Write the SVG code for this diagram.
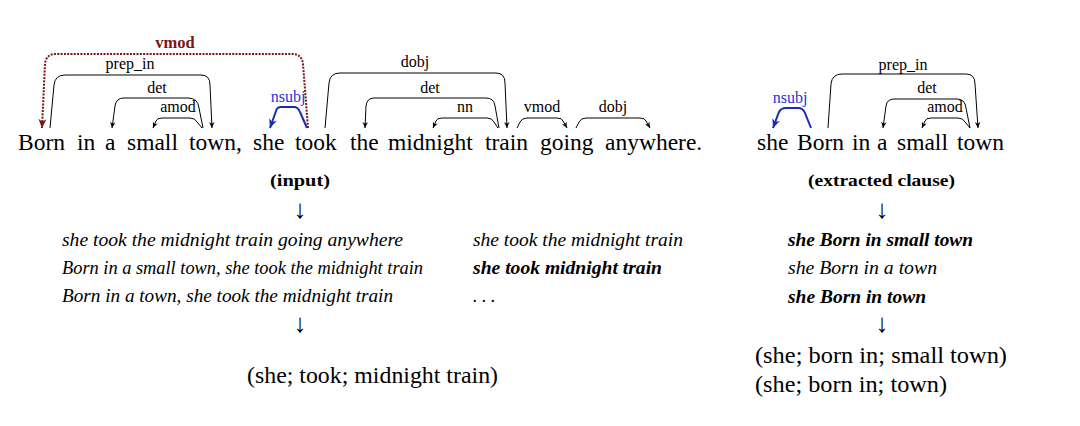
<svg xmlns="http://www.w3.org/2000/svg" width="1080" height="426" viewBox="0 0 1080 426">
<style>
.w{font-family:"Liberation Serif","Times New Roman",serif;font-size:23.5px;fill:#000}
.lb{font-family:"Liberation Serif","Times New Roman",serif;font-size:16px;fill:#000;text-anchor:middle}
.arc{fill:none;stroke:#000;stroke-width:1}
.blue{fill:none;stroke:#1a2bb0;stroke-width:2}
.red{fill:none;stroke:#7a1515;stroke-width:2;stroke-dasharray:2 1.3}
.it{font-family:"Liberation Serif","Times New Roman",serif;font-size:18px;font-style:italic;fill:#000}
.bi{font-family:"Liberation Serif","Times New Roman",serif;font-size:18px;font-style:italic;font-weight:bold;fill:#000}
.hd{font-family:"Liberation Serif","Times New Roman",serif;font-size:17.5px;font-weight:bold;fill:#000}
.ar{font-family:"Liberation Serif","DejaVu Serif",serif;font-size:26px;fill:#000;text-anchor:middle}
.tr{font-family:"Liberation Serif","Times New Roman",serif;font-size:22.5px;fill:#000}
</style>
<defs>
<marker id="ah" viewBox="0 0 10 10" refX="10" refY="5" markerWidth="7" markerHeight="6" markerUnits="userSpaceOnUse" orient="auto"><path d="M0,0.5 L10,5 L0,9.5 L3,5 z" fill="#000"/></marker>
<marker id="ahb" viewBox="0 0 10 10" refX="10" refY="5" markerWidth="10" markerHeight="9" markerUnits="userSpaceOnUse" orient="auto"><path d="M0,0.5 L10,5 L0,9.5 L3,5 z" fill="#1a2bb0"/></marker>
<marker id="ahr" viewBox="0 0 10 10" refX="10" refY="5" markerWidth="10" markerHeight="9" markerUnits="userSpaceOnUse" orient="auto"><path d="M0,0.5 L10,5 L0,9.5 L3,5 z" fill="#7a1515"/></marker>
</defs>

<g id="sentence-main">
<text class="w" y="150"><tspan x="18">Born</tspan><tspan x="77">in</tspan><tspan x="105">a</tspan><tspan x="127">small</tspan><tspan x="189">town,</tspan><tspan x="253">she</tspan><tspan x="295">took</tspan><tspan x="350">the</tspan><tspan x="388">midnight</tspan><tspan x="485">train</tspan><tspan x="540">going</tspan><tspan x="605">anywhere.</tspan></text>
</g>

<g id="sentence-clause">
<text class="w" y="150"><tspan x="757">she</tspan><tspan x="797">Born</tspan><tspan x="852">in</tspan><tspan x="877">a</tspan><tspan x="897">small</tspan><tspan x="957">town</tspan></text>
</g>

<g id="connectors">
<path class="red" d="M308,128 L303,64 Q302,54 292,54 L56,54 Q46,54 45,64 L42,128" marker-end="url(#ahr)"/>
<path class="arc" d="M50,128 L54,85 Q55,75 65,75 L201,75 Q210,75 210,85 L212,128" marker-end="url(#ah)"/>
<path class="arc" d="M203,128 L199,108 Q198,98 188,98 L124,98 Q116,98 115,106 L112,128" marker-end="url(#ah)"/>
<path class="arc" d="M202,128 L197,122 Q195,118 190,118 L162,118 Q157,118 156,121 L153,128" marker-end="url(#ah)"/>
<path class="blue" d="M307,128 L300,112 Q298,107 294,107 L281,107 Q277,107 276,111 L270,128" marker-end="url(#ahb)"/>
<path class="arc" d="M325,128 L329,83 Q330,73 340,73 L496,73 Q505,73 505,83 L507,128" marker-end="url(#ah)"/>
<path class="arc" d="M499,128 L495,106 Q494,98 486,98 L374,98 Q367,98 366,106 L365,128" marker-end="url(#ah)"/>
<path class="arc" d="M498,128 L494,122 Q492,118 487,118 L442,118 Q437,118 436,121 L433,128" marker-end="url(#ah)"/>
<path class="arc" d="M517,128 L520,122 Q522,118 527,118 L557,118 Q562,118 563,121 L567,128" marker-end="url(#ah)"/>
<path class="arc" d="M576,128 L579,122 Q581,118 586,118 L640,118 Q645,118 646,121 L650,128" marker-end="url(#ah)"/>
<path class="blue" d="M811,128 L805,113 Q803,108 798,108 L786,108 Q781,108 779,112 L773,128" marker-end="url(#ahb)"/>
<path class="arc" d="M828,128 L831,84 Q832,74 842,74 L966,74 Q975,74 975,84 L978,128" marker-end="url(#ah)"/>
<path class="arc" d="M970,128 L966,108 Q965,99 957,99 L894,99 Q887,99 886,106 L883,128" marker-end="url(#ah)"/>
<path class="arc" d="M970,128 L965,122 Q963,118 958,118 L931,118 Q926,118 925,121 L922,128" marker-end="url(#ah)"/>
</g>

<g id="arc-labels">
<text class="lb" x="175" y="48" style="font-weight:bold;font-size:16.5px;fill:#7a1515">vmod</text>
<text class="lb" x="130" y="69">prep_in</text>
<text class="lb" x="157" y="93">det</text>
<text class="lb" x="178" y="112">amod</text>
<text class="lb" x="288" y="102" style="fill:#2233e0">nsubj</text>
<text class="lb" x="415" y="67">dobj</text>
<text class="lb" x="430" y="93">det</text>
<text class="lb" x="465" y="112">nn</text>
<text class="lb" x="542" y="112">vmod</text>
<text class="lb" x="613" y="112">dobj</text>
<text class="lb" x="790" y="103" style="fill:#2233e0">nsubj</text>
<text class="lb" x="903" y="70">prep_in</text>
<text class="lb" x="927" y="93">det</text>
<text class="lb" x="945" y="112">amod</text>
</g>

<g id="input-column">
<text class="hd" x="270" y="186" textLength="60" lengthAdjust="spacingAndGlyphs">(input)</text>
<text class="ar" x="300" y="218">↓</text>
<text class="it" x="62" y="246" textLength="341" lengthAdjust="spacingAndGlyphs">she took the midnight train going anywhere</text>
<text class="it" x="62" y="274" textLength="361" lengthAdjust="spacingAndGlyphs">Born in a small town, she took the midnight train</text>
<text class="it" x="62" y="302" textLength="331" lengthAdjust="spacingAndGlyphs">Born in a town, she took the midnight train</text>
<text class="it" x="473" y="246" textLength="210" lengthAdjust="spacingAndGlyphs">she took the midnight train</text>
<text class="bi" x="473" y="274" textLength="189" lengthAdjust="spacingAndGlyphs">she took midnight train</text>
<text class="it" x="473" y="302">. . .</text>
<text class="ar" x="300" y="332">↓</text>
<text class="tr" x="247" y="383" textLength="251" lengthAdjust="spacingAndGlyphs">(she; took; midnight train)</text>
</g>

<g id="clause-column">
<text class="hd" x="808" y="186" textLength="147" lengthAdjust="spacingAndGlyphs">(extracted clause)</text>
<text class="ar" x="882" y="218">↓</text>
<text class="bi" x="788" y="246" textLength="185" lengthAdjust="spacingAndGlyphs">she Born in small town</text>
<text class="it" x="788" y="274" textLength="149" lengthAdjust="spacingAndGlyphs">she Born in a town</text>
<text class="bi" x="788" y="303" textLength="138" lengthAdjust="spacingAndGlyphs">she Born in town</text>
<text class="ar" x="882" y="332">↓</text>
<text class="tr" x="755" y="363" textLength="252" lengthAdjust="spacingAndGlyphs">(she; born in; small town)</text>
<text class="tr" x="755" y="392" textLength="192" lengthAdjust="spacingAndGlyphs">(she; born in; town)</text>
</g>
</svg>
